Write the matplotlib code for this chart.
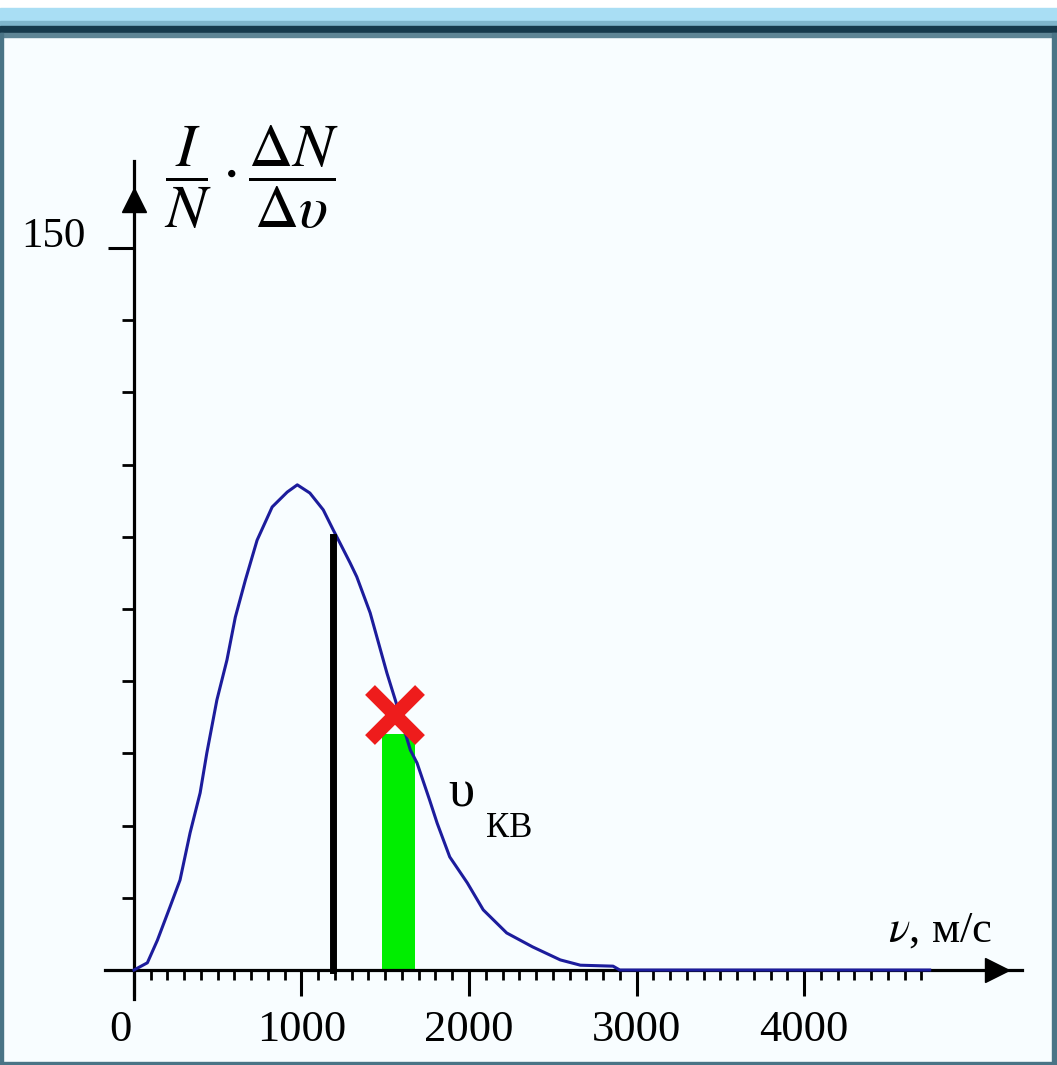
import matplotlib.pyplot as plt
from matplotlib.patches import Rectangle
from matplotlib.transforms import ScaledTranslation

# Maxwell-like distribution
speed = [0, 80, 140, 215, 275, 335, 395, 435, 495, 555, 605, 665, 735, 825, 915, 975,
         1050, 1130, 1190, 1230, 1290, 1330, 1410, 1510, 1560, 1650, 1690, 1765, 1810,
         1885, 1990, 2085, 2225, 2380, 2545, 2665, 2860, 2900, 4750]
share = [0, 1.5, 6.2, 13.1, 18.7, 28.5, 36.8, 45.1, 56.1, 64.4, 73.3, 81.0, 89.3, 96.2, 99.3, 100.8,
         99.1, 95.6, 91.4, 88.7, 84.6, 81.7, 74.2, 61.7, 56.1, 45.7, 43.0, 35.3, 30.5,
         23.5, 18.1, 12.5, 7.7, 4.8, 2.1, 1.0, 0.8, 0, 0]

v_line, h_line = 1190, 90          # black vertical line
v_bar, h_bar, w_bar = 1580, 49, 200  # green strip
v_cross, h_cross = 1560, 53        # red cross

x_major = [0, 1000, 2000, 3000, 4000]
x_minor = [v for v in range(100, 4800, 100) if v % 1000 != 0]
y_major = [150]
y_minor = list(range(15, 150, 15))

plt.rcParams['mathtext.fontset'] = 'stix'

W, H = 1057, 1065
fig = plt.figure(figsize=(W / 100, H / 100), dpi=100)
fig.patch.set_facecolor('white')

# window frame
def band(y0, y1, color, x0=0, x1=W):
    fig.patches.append(Rectangle((x0 / W, 1 - y1 / H), (x1 - x0) / W, (y1 - y0) / H,
                                 transform=fig.transFigure, color=color, zorder=-10))

band(36, 1062, '#f8fdff', 3, 1052)
band(8, 21, '#a9def4')
band(21, 26, '#7fb6cc')
band(26, 33, '#163a4c')
band(33, 37, '#5e8595')
band(33, 1065, '#4a7486', 0, 3)
band(33, 1065, '#4a7486', 1052, 1057)
band(1062, 1065, '#4a7486')

ax = fig.add_axes([0.0998, 0.06207, 0.8669, 0.7864])
ax.set_zorder(1)
ax.set_xlim(-170, 5300)
ax.set_ylim(-6, 168)
ax.patch.set_alpha(0)

for s in ['top', 'right']:
    ax.spines[s].set_visible(False)
ax.spines['left'].set_position(('data', 0))
ax.spines['bottom'].set_position(('data', 0))
ax.spines['left'].set_linewidth(2.3)
ax.spines['bottom'].set_linewidth(2.3)

ax.set_xticks(x_major)
ax.set_xticks(x_minor, minor=True)
ax.set_yticks(y_major)
ax.set_yticks(y_minor, minor=True)
ax.tick_params(axis='x', which='major', length=19, width=2.2, direction='out', pad=10)
ax.tick_params(axis='x', which='minor', length=7, width=2.0, direction='out')
ax.tick_params(axis='y', which='major', length=18.5, width=2.2, direction='out', pad=16)
ax.tick_params(axis='y', which='minor', length=8.5, width=2.0, direction='out')
ax.set_xticklabels([str(v) for v in x_major], fontsize=32, family='Liberation Serif')
ax.set_yticklabels([str(v) for v in y_major], fontsize=31, family='Liberation Serif')

lbl0 = ax.get_xticklabels()[0]
lbl0.set_transform(lbl0.get_transform() + ScaledTranslation(-0.14, 0, fig.dpi_scale_trans))
lbl150 = ax.get_yticklabels()[0]
lbl150.set_transform(lbl150.get_transform() + ScaledTranslation(0, 0.16, fig.dpi_scale_trans))

# axis arrows
ax.plot([5150], [0], marker='>', markersize=17, color='black', clip_on=False, zorder=5)
ax.plot([0], [160], marker='^', markersize=17, color='black', clip_on=False, zorder=5)

# curve and marks
ax.plot(speed, share, color='#1c1c9c', lw=2.2, zorder=3)
ax.plot([v_line, v_line], [0, h_line], color='black', lw=5, zorder=4)
ax.bar([v_bar], [h_bar], width=w_bar, color='#00ee00', zorder=2)
ax.plot([v_cross], [h_cross], marker='x', markersize=36, mew=10, color='#ee1c1c', zorder=6)

# labels
ax.text(1952, 36.6, 'υ', fontsize=38, family='Liberation Serif', ha='center', va='center')
ax.text(2239, 29.5, 'КВ', fontsize=25, family='Liberation Serif', ha='center', va='center')
ax.text(4812, 8.3, r'$\nu$, м/с', fontsize=32, family='Liberation Serif',
        ha='center', va='center')

ax.text(704, 164.6, r'$\dfrac{I}{N}\cdot\dfrac{\Delta N}{\Delta\upsilon}$', fontsize=44,
        ha='center', va='center')

fig.savefig('out.png', dpi=100)
